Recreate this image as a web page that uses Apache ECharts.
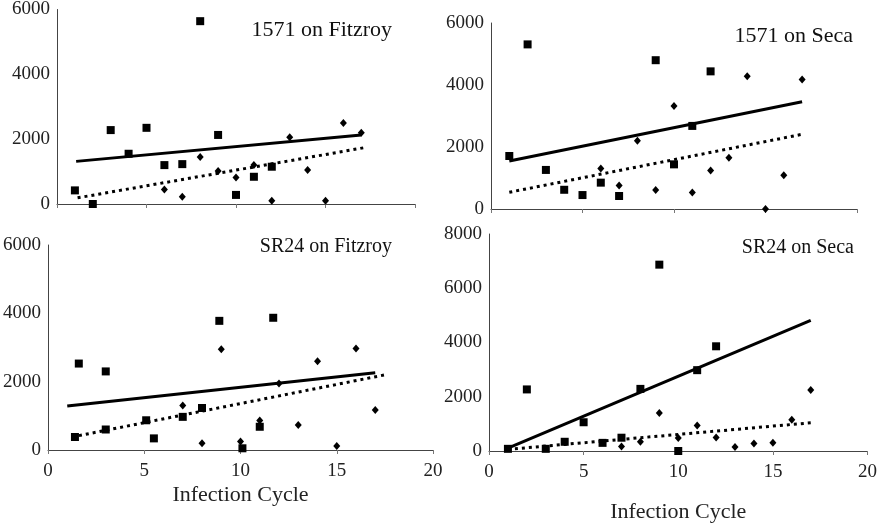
<!DOCTYPE html>
<html>
<head>
<meta charset="utf-8">
<script src="https://cdn.jsdelivr.net/npm/echarts@6/dist/echarts.min.js"></script>
<style>
html,body{margin:0;padding:0;background:#fff;}
#chart{width:880px;height:524px;}
</style>
</head>
<body>
<div id="chart"></div>
<script>
// ---- Data ----
const panelTitles = ['1571 on Fitzroy', '1571 on Seca', 'SR24 on Fitzroy', 'SR24 on Seca'];
const xAxisName = 'Infection Cycle';
const yMaxes = [6000, 6000, 6000, 8000];

const p1Squares = [[1,420],[2,0],[3,2280],[4,1550],[5,2350],[6,1200],[7,1230],[8,5640],[9,2130],[10,280],[11,840],[12,1150]];
const p1Diamonds = [[6,450],[7,220],[8,1450],[9,1020],[10,820],[11,1200],[12,100],[13,2060],[14,1050],[15,100],[16,2500],[17,2200]];
const p1Solid = [[1.07,1315],[17,2130]];
const p1Dotted = [[1.15,190],[17.3,1750]];

const p2Squares = [[1,1710],[2,5310],[3,1260],[4,620],[5,450],[6,850],[7,420],[9,4800],[10,1440],[11,2680],[12,4440]];
const p2Diamonds = [[6,1310],[7,760],[8,2200],[9,610],[10,3320],[11,530],[12,1240],[13,1650],[14,4280],[15,0],[16,1090],[17,4180]];
const p2Solid = [[1,1550],[17,3460]];
const p2Dotted = [[1,540],[17,2410]];

const p3Squares = [[1.4,380],[1.6,2530],[3,2300],[3,600],[5.1,870],[5.5,340],[7,970],[8,1230],[8.9,3780],[10.1,50],[11,680],[11.7,3870]];
const p3Diamonds = [[7,1300],[8,200],[9,2950],[10,250],[11,860],[12,1950],[13,730],[14,2600],[15,120],[16,2970],[17,1170]];
const p3Solid = [[1,1290],[17,2260]];
const p3Dotted = [[1.25,380],[17.6,2210]];

const p4Squares = [[1,80],[2,2270],[3,80],[4,340],[5,1060],[6,300],[7,490],[8,2290],[9,6870],[10,0],[11,2980],[12,3860]];
const p4Diamonds = [[7,170],[8,340],[9,1400],[10,480],[11,940],[12,500],[13,150],[14,280],[15,300],[16,1150],[17,2250]];
const p4Solid = [[1,110],[17,4820]];
const p4Dotted = [[1,60],[17,1040]];

const panels = [
  {sq: p1Squares, di: p1Diamonds, solid: p1Solid, dotted: p1Dotted},
  {sq: p2Squares, di: p2Diamonds, solid: p2Solid, dotted: p2Dotted},
  {sq: p3Squares, di: p3Diamonds, solid: p3Solid, dotted: p3Dotted},
  {sq: p4Squares, di: p4Diamonds, solid: p4Solid, dotted: p4Dotted}
];

// ---- Layout ----
const FONT = 'Liberation Serif';
const grids = [
  {left: 57, top: 5, width: 358, height: 199},
  {left: 491, top: 23, width: 366, height: 186},
  {left: 48, top: 245, width: 385, height: 205},
  {left: 489, top: 234, width: 379, height: 218}
];
const titlePos = [
  {right: 483, top: 14, size: 22},
  {right: 22, top: 20, size: 22},
  {right: 483, top: 232, size: 20},
  {right: 21, top: 233, size: 20}
];
const namePos = [null, null, 34, 50];

const option = {
  animation: false,
  backgroundColor: '#fff',
  title: panelTitles.map((t, i) => ({
    text: t, right: titlePos[i].right, top: titlePos[i].top,
    textStyle: {fontFamily: FONT, fontWeight: 'normal', fontSize: titlePos[i].size, color: '#111'}
  })),
  grid: grids.map(g => Object.assign({containLabel: false}, g)),
  xAxis: grids.map((g, i) => ({
    gridIndex: i, type: 'value', min: 0, max: 20, interval: 5,
    splitLine: {show: false},
    axisLine: {show: true, lineStyle: {color: '#444', width: 1}},
    axisTick: {show: true, length: 4, lineStyle: {color: '#777'}},
    axisLabel: {show: i >= 2, fontFamily: FONT, fontSize: 19, color: '#222', margin: 12,
                formatter: v => String(v)},
    name: i >= 2 ? xAxisName : '',
    nameLocation: 'middle',
    nameGap: namePos[i] || 0,
    nameTextStyle: {fontFamily: FONT, fontSize: 22, color: '#222'}
  })),
  yAxis: grids.map((g, i) => ({
    gridIndex: i, type: 'value', min: 0, max: yMaxes[i], interval: 2000,
    splitLine: {show: false},
    axisLine: {show: true, lineStyle: {color: '#444', width: 1}},
    axisTick: {show: false},
    axisLabel: {fontFamily: FONT, fontSize: 19, color: '#222', margin: 7,
                formatter: v => String(v)}
  })),
  series: []
};

panels.forEach((p, i) => {
  option.series.push({
    type: 'line', xAxisIndex: i, yAxisIndex: i, data: p.solid,
    showSymbol: false, symbol: 'none', silent: true,
    lineStyle: {color: '#000', width: 3, type: 'solid'}
  });
  option.series.push({
    type: 'line', xAxisIndex: i, yAxisIndex: i, data: p.dotted,
    showSymbol: false, symbol: 'none', silent: true,
    lineStyle: {color: '#000', width: 3, type: [3, 4], cap: 'butt'}
  });
  option.series.push({
    type: 'scatter', xAxisIndex: i, yAxisIndex: i, data: p.sq,
    symbol: 'rect', symbolSize: 8,
    itemStyle: {color: '#000', opacity: 1}
  });
  option.series.push({
    type: 'scatter', xAxisIndex: i, yAxisIndex: i, data: p.di,
    symbol: 'diamond', symbolSize: [7, 8],
    itemStyle: {color: '#000', opacity: 1}
  });
});

const chart = echarts.init(document.getElementById('chart'), null, {renderer: 'canvas'});
chart.setOption(option);
</script>
</body>
</html>
